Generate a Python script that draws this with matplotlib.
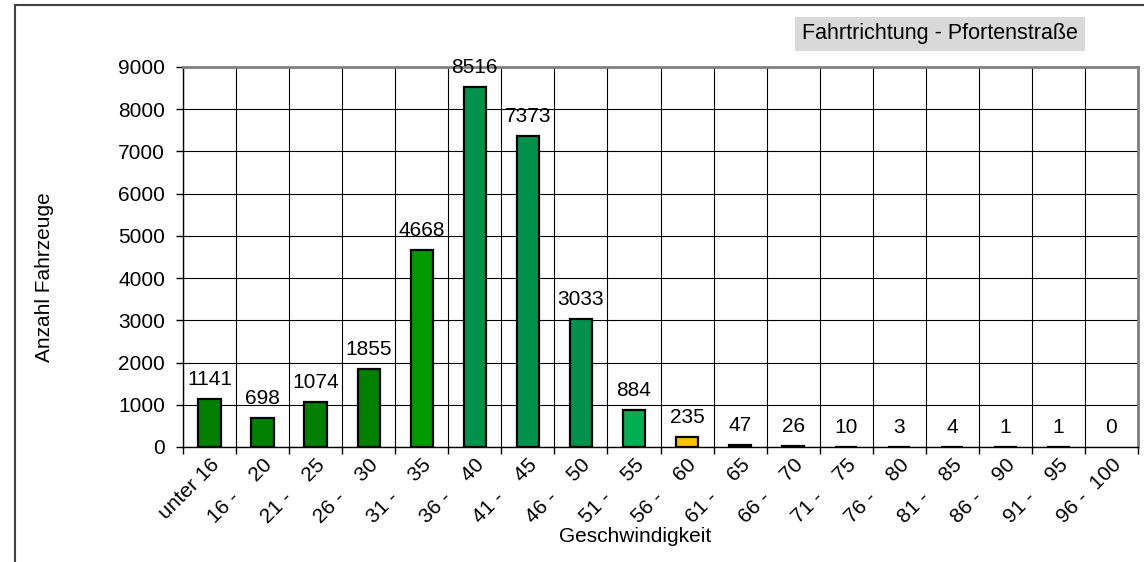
import matplotlib.pyplot as plt
from matplotlib.patches import Rectangle

plt.rcParams['font.family'] = ['Liberation Sans', 'DejaVu Sans']

# Daten
kategorien = ["unter 16", "16 -    20", "21 -    25", "26 -    30", "31 -    35",
              "36 -    40", "41 -    45", "46 -    50", "51 -    55", "56 -    60",
              "61 -    65", "66 -    70", "71 -    75", "76 -    80", "81 -    85",
              "86 -    90", "91 -    95", "96 -  100"]
anzahl = [1141, 698, 1074, 1855, 4668, 8516, 7373, 3033, 884, 235,
          47, 26, 10, 3, 4, 1, 1, 0]
farben = ["#008000"] * 4 + ["#009A00"] + ["#00924A"] * 3 + ["#00B050", "#FFC000"] + ["#000000"] * 8
y_ticks = [0, 1000, 2000, 3000, 4000, 5000, 6000, 7000, 8000, 9000]

W, H = 1144, 562
fig = plt.figure(figsize=(W / 100, H / 100), dpi=100)
ax = fig.add_axes([183 / W, 1 - 447 / H, (1138 - 183) / W, (447 - 67) / H])

x = list(range(len(anzahl)))
lw = [1.6 if v > 0 else 0 for v in anzahl]
ax.bar(x, anzahl, width=0.42, color=farben, edgecolor="black", linewidth=lw, zorder=3)

for xi, v in zip(x, anzahl):
    ax.annotate(str(v), (xi, v), xytext=(0, 10), textcoords="offset pixels",
                ha="center", va="bottom", fontsize=15, color="black", zorder=4)

ax.set_xlim(-0.5, len(anzahl) - 0.5)
ax.set_ylim(0, 9000)
ax.set_yticks(y_ticks)
ax.tick_params(axis="y", labelsize=15, length=5, width=1, pad=8)

# Gitter an den Kategoriegrenzen, Beschriftung in der Mitte
ax.set_xticks([i - 0.5 for i in range(len(anzahl) + 1)])
ax.set_xticklabels([])
ax.set_xticks(x, minor=True)
ax.set_xticklabels(kategorien, minor=True, rotation=45, ha="right",
                   rotation_mode="anchor", fontsize=15)
ax.tick_params(axis="x", which="minor", length=0, pad=6)
ax.tick_params(axis="x", which="major", length=5, width=1)
ax.grid(True, which="major", color="black", linewidth=0.8, zorder=0)

for s in ["top", "right"]:
    ax.spines[s].set_color("#808080")
    ax.spines[s].set_linewidth(2)
ax.spines["left"].set_linewidth(1)
ax.spines["bottom"].set_linewidth(1)

fig.text(45 / W, 1 - 277 / H, "Anzahl Fahrzeuge", rotation=90, ha="center",
         va="center", fontsize=15)
fig.text(635 / W, 1 - 537 / H, "Geschwindigkeit", ha="center", va="center", fontsize=15)

fig.text(802 / W, 1 - 34 / H, "Fahrtrichtung - Pfortenstraße", ha="left", va="center",
         fontsize=15.5, bbox=dict(facecolor="#D9D9D9", edgecolor="none", pad=5))

# Rahmen des Diagramms
fig.patches.append(Rectangle((15 / W, -0.1), 1.2, 1 - 5 / H + 0.1,
                             transform=fig.transFigure, fill=False,
                             edgecolor="#404040", linewidth=1.5))

fig.savefig("out.png", dpi=100)
